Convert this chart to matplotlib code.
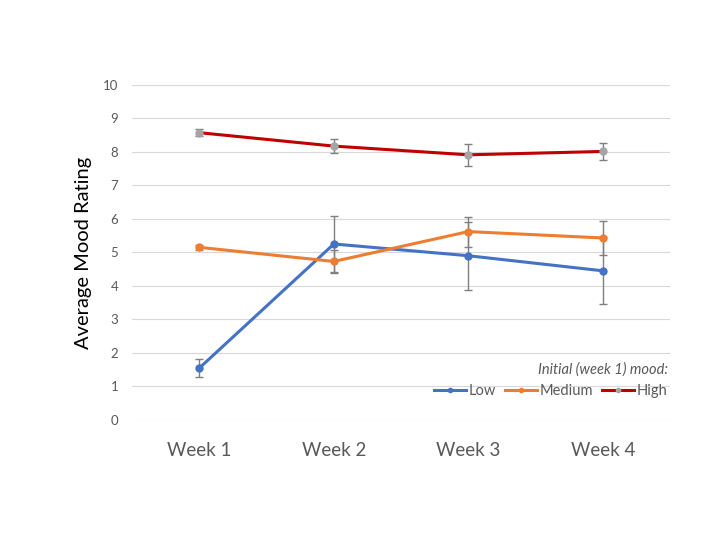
import matplotlib.pyplot as plt
from matplotlib.lines import Line2D

# Data
weeks = ["Week 1", "Week 2", "Week 3", "Week 4"]
low = [1.55, 5.25, 4.90, 4.45]
low_err = [0.27, 0.84, 1.02, 1.0]
medium = [5.15, 4.73, 5.62, 5.43]
medium_err = [0.08, 0.35, 0.45, 0.5]
high = [8.57, 8.17, 7.91, 8.01]
high_err = [0.1, 0.21, 0.32, 0.26]

plt.rcParams['font.family'] = ['Lato', 'DejaVu Sans']

fig = plt.figure(figsize=(7.22, 5.33), dpi=100)
ax = fig.add_axes([0.183, 0.212, 0.745, 0.629])

x = list(range(len(weeks)))
err_kw = dict(ecolor='#7f7f7f', elinewidth=1, capsize=3, capthick=1)

ax.errorbar(x, low, yerr=low_err, color='#4472C4', lw=2.2, marker='o', ms=5,
            label='Low', clip_on=False, zorder=3, **err_kw)
ax.errorbar(x, medium, yerr=medium_err, color='#ED7D31', lw=2.2, marker='o', ms=5,
            label='Medium', clip_on=False, zorder=3, **err_kw)
ax.errorbar(x, high, yerr=high_err, color='#C00000', lw=2.2, marker='o', ms=5,
            mfc='#A5A5A5', mec='#A5A5A5', label='High', clip_on=False, zorder=3, **err_kw)

ax.set_xlim(-0.5, 3.5)
ax.set_ylim(0, 10)
ax.set_yticks(range(0, 11))
ax.set_xticks(x)
ax.set_xticklabels(weeks)
ax.grid(axis='y', color='#D9D9D9', lw=0.8)
ax.set_axisbelow(True)
for s in ax.spines.values():
    s.set_visible(False)
ax.tick_params(axis='y', length=0, labelsize=9.5, labelcolor='#595959', pad=10)
ax.tick_params(axis='x', length=0, labelsize=13.5, labelcolor='#595959', pad=16)
ax.set_ylabel("Average Mood Rating", fontsize=14.5, color='black', labelpad=8)

handles = [
    Line2D([], [], color='#4472C4', lw=2.2, marker='o', ms=3),
    Line2D([], [], color='#ED7D31', lw=2.2, marker='o', ms=3),
    Line2D([], [], color='#C00000', lw=2.2, marker='o', ms=3, mfc='#A5A5A5', mec='#A5A5A5'),
]
leg = ax.legend(handles, ["Low", "Medium", "High"], ncol=3, frameon=False,
                loc='lower right', bbox_to_anchor=(1.02, 0.025),
                title="Initial (week 1) mood:", fontsize=10.5,
                handlelength=2.2, handletextpad=0.2, columnspacing=0.6,
                title_fontproperties={'style': 'italic', 'size': 10.5})
leg.get_title().set_color('#595959')
leg._legend_box.align = 'right'
for t in leg.get_texts():
    t.set_color('#595959')

plt.savefig("out.png", dpi=100)
